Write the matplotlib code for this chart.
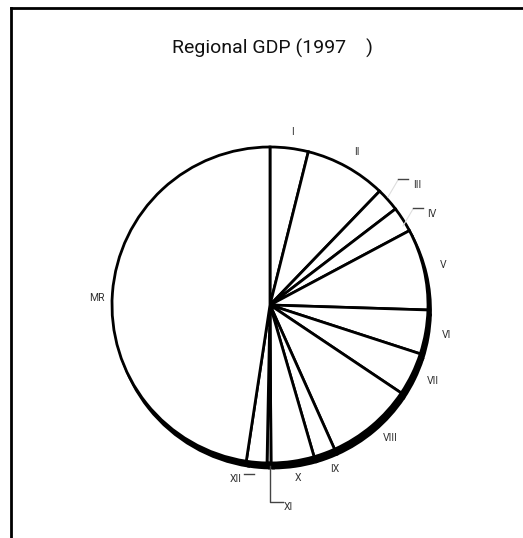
import matplotlib.pyplot as plt
import numpy as np

plt.rcParams['font.family'] = ['Roboto', 'DejaVu Sans']

regions = ['I', 'II', 'III', 'IV', 'V', 'VI', 'VII', 'VIII', 'IX', 'X', 'XI', 'XII', 'MR']
gdp_share = [3.9, 8.3, 2.4, 2.6, 8.3, 4.5, 4.4, 8.9, 2.2, 4.4, 0.4, 2.1, 47.6]

W, H = 523, 538
fig = plt.figure(figsize=(W / 100, H / 100), dpi=100)

# pie centre and radius in pixels
CX, CY, R = 270, 305, 158
half = 160
ax = fig.add_axes([(CX - half) / W, (H - CY - half) / H, 2 * half / W, 2 * half / H])
ax.set_aspect('equal')
ax.axis('off')

rad = R / half
# rim underneath, shifted down-right to give the pie some depth
ax.pie(gdp_share, startangle=90, counterclock=False, radius=rad,
       center=(2.5 / half, -5 / half),
       wedgeprops=dict(facecolor='black', edgecolor='black', linewidth=2))
wedges, texts = ax.pie(gdp_share, labels=regions, startangle=90, counterclock=False,
                       radius=rad, labeldistance=1.09 / rad,
                       wedgeprops=dict(facecolor='white', edgecolor='black', linewidth=2),
                       textprops=dict(fontsize=7.5, color='#333333'))
ax.set_xlim(-1, 1)
ax.set_ylim(-1, 1)

def px(x, y):
    return ((x - CX) / half, (CY - y) / half)

# small slices get labels pulled out with leader lines
leaders = {
    'III': ((417, 185), [(388, 197), (398, 180)], [(398, 179), (408, 179)]),
    'IV': ((432, 214), [(403, 226), (413, 209)], [(413, 208), (423, 208)]),
    'XI': ((288, 507), None, [(270, 466), (270, 502), (283, 502)]),
    'XII': ((236, 479), None, [(244, 474), (254, 474)]),
    'MR': ((97, 298), None, None),
}
for t in texts:
    key = t.get_text()
    if key in leaders:
        pos, faint, line = leaders[key]
        t.set_position(px(*pos))
        t.set_ha('center')
        t.set_va('center')
        if faint:
            xs, ys = zip(*[px(*p) for p in faint])
            ax.plot(xs, ys, color='#dddddd', lw=0.8, clip_on=False)
        if line:
            xs, ys = zip(*[px(*p) for p in line])
            ax.plot(xs, ys, color='#444444', lw=1, clip_on=False)

fig.text(272 / W, 1 - 48 / H, 'Regional GDP (1997\u2002\u2002)', ha='center', va='center',
         fontsize=14, color='#111111')

# frame lines along top and left
fig.add_artist(plt.Line2D([11 / W, 1], [1 - 8 / H, 1 - 8 / H], color='black', lw=2))
fig.add_artist(plt.Line2D([11 / W, 11 / W], [0, 1 - 8 / H], color='black', lw=2))

fig.savefig('out.png', dpi=100)
